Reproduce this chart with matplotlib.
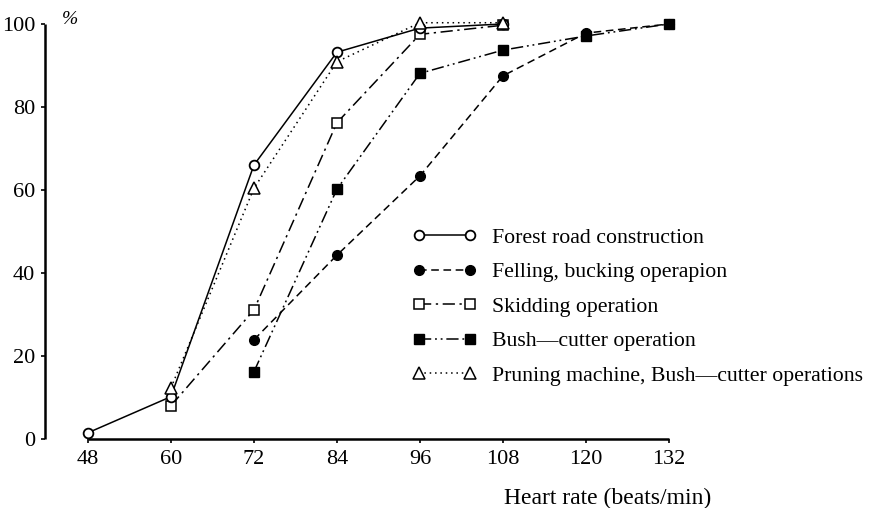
import matplotlib.pyplot as plt

plt.rcParams['font.family'] = ['Liberation Serif', 'DejaVu Serif']

# data (cumulative %, by heart rate)
road_x = [48, 60, 72, 84, 96, 108]
road_y = [1.5, 10.2, 66.0, 93.2, 99.0, 100.0]

fell_x = [72, 84, 96, 108, 120, 132]
fell_y = [23.9, 44.3, 63.4, 87.5, 97.8, 100.0]

skid_x = [60, 72, 84, 96, 108]
skid_y = [8.0, 31.1, 76.2, 97.5, 99.7]

bush_x = [72, 84, 96, 108, 120, 132]
bush_y = [16.2, 60.2, 88.1, 93.7, 97.1, 100.0]

prune_x = [60, 72, 84, 96, 108]
prune_y = [12.3, 60.4, 90.9, 100.3, 100.3]

xticks = [48, 60, 72, 84, 96, 108, 120, 132]
yticks = [0, 20, 40, 60, 80, 100]

fig = plt.figure(figsize=(8.71, 5.08), dpi=100)
ax = fig.add_axes([0.0517, 0.1358, 0.7163, 0.817])

ms = 7
lw = 1.1
ax.plot(road_x, road_y, color='k', lw=lw, ls='-', marker='o', ms=ms,
        mfc='white', mec='k', mew=1.3, label='Forest road construction',
        zorder=5, clip_on=False)
ax.plot(fell_x, fell_y, color='k', lw=lw, ls=(0, (5, 3)), marker='o', ms=ms,
        mfc='k', mec='k', label='Felling, bucking operapion',
        zorder=4, clip_on=False)
ax.plot(skid_x, skid_y, color='k', lw=lw, ls=(0, (8, 3, 1.5, 3)), marker='s', ms=ms,
        mfc='white', mec='k', mew=1.1, label='Skidding operation',
        zorder=4, clip_on=False)
ax.plot(bush_x, bush_y, color='k', lw=lw, ls=(0, (8, 2.5, 1.2, 2.5, 1.2, 2.5)),
        marker='s', ms=ms, mfc='k', mec='k', label='Bush\u2014cutter operation',
        zorder=4, clip_on=False)
ax.plot(prune_x, prune_y, color='k', lw=lw, ls=(0, (1, 2.5)), marker='^', ms=ms + 2,
        mfc='white', mec='k', mew=1.1,
        label='Pruning machine, Bush\u2014cutter operations', zorder=5, clip_on=False)

ax.set_xlim(41.8, 132)
ax.set_ylim(0, 100)
ax.set_xticks(xticks)
ax.set_yticks(yticks)
ax.tick_params(labelsize=16, length=3, width=1.2, direction='out')
ax.tick_params(axis='y', pad=4)
ax.tick_params(axis='x', pad=5)
ax.spines['top'].set_visible(False)
ax.spines['right'].set_visible(False)
ax.spines['left'].set_linewidth(1.8)
ax.spines['bottom'].set_linewidth(1.8)
ax.spines['bottom'].set_bounds(48, 132)
for sp in ('left', 'bottom'):
    ax.spines[sp].set_capstyle('butt')

ax.set_xlabel('Heart rate (beats/min)', fontsize=17)
ax.xaxis.set_label_coords(0.902, -0.118)
ax.xaxis.label.set_va('top')

fig.text(0.071, 0.962, '%', fontsize=14, style='italic', ha='left', va='center')

ax.legend(loc='upper left', bbox_to_anchor=(0.589, 0.509), frameon=False,
          fontsize=15.7, numpoints=2, handlelength=2.95, handletextpad=0.7,
          labelspacing=0.65, borderaxespad=0, borderpad=0, markerscale=1.0)

fig.savefig('out.png', dpi=100)
